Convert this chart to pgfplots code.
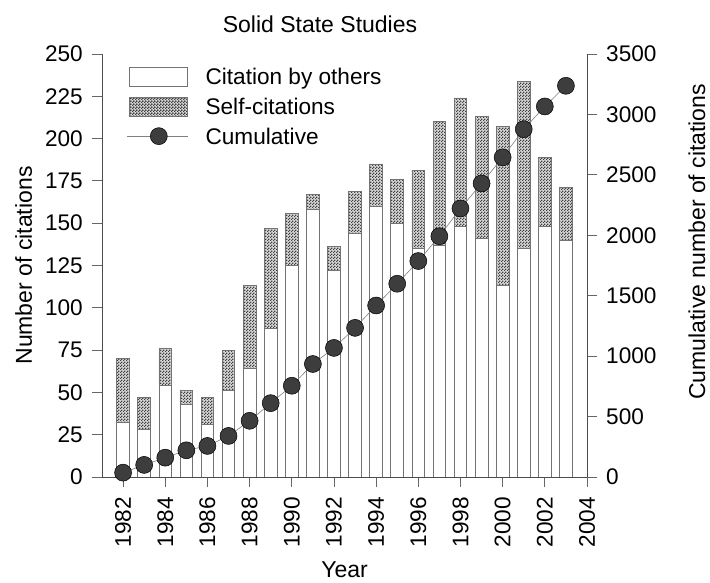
\documentclass[border=0pt]{standalone}
\usepackage{fontspec}
\setmainfont{Liberation Sans}
\usepackage{pgfplots}
\usepackage{pgfplotstable}
\pgfplotsset{compat=1.18}
\usetikzlibrary{patterns}
\pgfdeclarepatternformonly{checker}{\pgfpointorigin}{\pgfqpoint{3pt}{3pt}}{\pgfqpoint{3pt}{3pt}}{%
 \pgfpathrectangle{\pgfpointorigin}{\pgfqpoint{1.5pt}{1.5pt}}%
 \pgfpathrectangle{\pgfqpoint{1.5pt}{1.5pt}}{\pgfqpoint{1.5pt}{1.5pt}}%
 \pgfusepath{fill}}
\newcommand{\bigfont}{\fontsize{22.6}{26}\selectfont}
\newcommand{\labfont}{\fontsize{23}{27}\selectfont}

\pgfplotstableread{
year others self cum
1982 32 38 36
1983 28 19 100
1984 54 22 160
1985 43 8 221
1986 31 16 257
1987 51 24 340
1988 64 49 465
1989 88 59 611
1990 125 31 755
1991 158 9 935
1992 122 14 1068
1993 144 25 1234
1994 160 25 1419
1995 150 26 1599
1996 135 46 1787
1997 137 73 1992
1998 148 76 2222
1999 141 72 2429
2000 113 94 2645
2001 135 99 2878
2002 148 41 3066
2003 140 31 3237
}\data

\pgfplotsset{
  common/.style={
    scale only axis, width=485pt, height=423pt,
    xmin=1981, xmax=2004,
    tick align=outside,
    major tick length=10pt, minor tick length=6pt,
    tick style={black!60, line width=0.8pt},
    axis line style={black!70, line width=0.8pt},
    every tick label/.append style={font=\bigfont, inner sep=0pt},
    /pgf/number format/assume math mode=true,
    /pgf/number format/1000 sep={},
    label style={font=\labfont},
  }
}

\begin{document}
\begin{tikzpicture}
\begin{axis}[
  common,
  ymin=0, ymax=250,
  axis y line*=left, axis x line*=bottom,
  xtick={1982,1984,...,2004}, minor x tick num=1,
  ytick={0,25,...,250},
  xticklabel style={yshift=-10pt, rotate=90, anchor=east},
  yticklabel style={xshift=-9pt, anchor=east},
  ybar stacked, bar width=12.7pt,
  every axis title/.style={at={(axis description cs:0.4495,1)}, anchor=base, yshift=21pt, font=\labfont},
  title={Solid State Studies},
  xlabel={Year},
  xlabel style={at={([yshift=-101pt]axis description cs:0.5,0)}, anchor=base},
  ylabel={Number of citations},
  ylabel style={at={([xshift=-70pt]axis description cs:0,0.5)}, anchor=base},
  legend style={at={(0,1)}, anchor=north west, xshift=25pt, yshift=-12.6pt,
    draw=none, fill=none, inner sep=0pt, outer sep=0pt,
    row sep=8pt, column sep=17pt,
    nodes={inner sep=0pt, text height=15pt, text depth=4.5pt, font=\bigfont, anchor=base west}},
  legend cell align=left,
]
\coordinate (SW) at (rel axis cs:0,0);
\coordinate (NE) at (rel axis cs:1,1);
\addplot[fill=white, draw=black!55, line width=0.8pt,
  legend image code/.code={\draw[fill=white, draw=black!55, line width=0.8pt] (0pt,-1.5pt) rectangle (58pt,17.5pt);}]
  table[x=year, y=others]{\data};
\addlegendentry{Citation by others}
\addplot[draw=black!55, line width=0.8pt, fill=gray!30, postaction={pattern=checker, pattern color=black!75},
  legend image code/.code={\draw[draw=black!55, line width=0.8pt, fill=gray!30, postaction={pattern=checker, pattern color=black!75}] (0pt,-1.5pt) rectangle (58pt,17.5pt);}]
  table[x=year, y=self]{\data};
\addlegendentry{Self-citations}
\addlegendimage{legend image code/.code={
  \draw[gray, line width=0.6pt] (-2pt,7.9pt) -- (59pt,7.9pt);
  \filldraw[fill=black!76, draw=black, line width=0.5pt] (29.5pt,7.9pt) circle (8.5pt);}}
\addlegendentry{Cumulative}
\end{axis}
\begin{axis}[
  common,
  ymin=0, ymax=3500,
  axis y line*=right, axis x line=none,
  ytick={0,500,...,3500},
  yticklabel style={xshift=9pt, anchor=west},
  ylabel={Cumulative number of citations},
  ylabel style={at={([xshift=118pt]axis description cs:1,0.556)}, anchor=base},
  clip=false,
]
\addplot[gray, line width=0.6pt, mark=*, mark size=8.5pt,
  mark options={fill=black!76, draw=black, line width=0.5pt}]
  table[x=year, y=cum]{\data};
\end{axis}
\pgfresetboundingbox
\path[use as bounding box] ([xshift=-102pt,yshift=-106pt]SW) rectangle ([xshift=123pt,yshift=54pt]NE);
\end{tikzpicture}
\end{document}
